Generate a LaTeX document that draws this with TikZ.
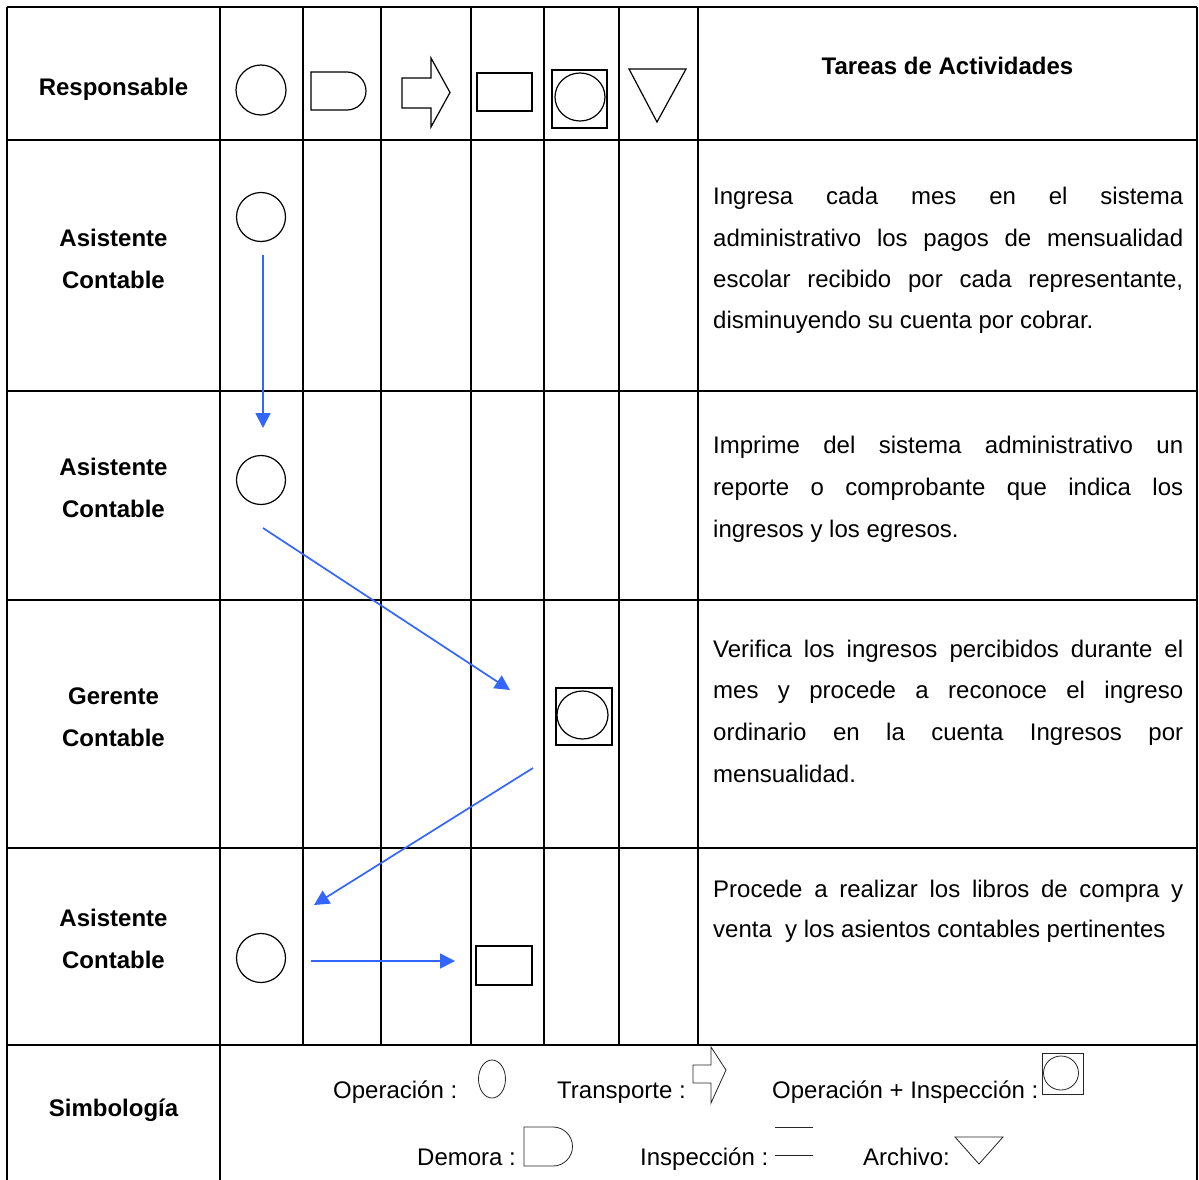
\documentclass[tikz,border=0pt]{standalone}
\usepackage{fontspec}
\setmainfont{Liberation Sans}
\usetikzlibrary{arrows.meta}
\definecolor{flowblue}{RGB}{51,102,255}
\newcommand{\jline}[1]{\makebox[470pt][s]{#1}}
\begin{document}
\begin{tikzpicture}[x=1pt,y=-1pt,
  gridline/.style={line width=1.5pt,black},
  sym/.style={line width=1.2pt,black},
  legsym/.style={line width=0.8pt,black!85},
  flow/.style={flowblue,line width=1.7pt,-{Triangle[length=15pt,width=15pt]}},
  lbl/.style={font=\fontsize{24}{28}\selectfont\bfseries,anchor=base,inner sep=0pt},
  txt/.style={font=\fontsize{24}{28}\selectfont,anchor=base west,inner sep=0pt},
  opnode/.style={draw,sym,circle,minimum size=49pt,inner sep=0pt},
  rectnode/.style={draw,sym,rectangle,minimum width=56pt,minimum height=39pt,inner sep=0pt}
]
\useasboundingbox (0,0) rectangle (1199,1180);
\fill[white] (0,0) rectangle (1199,1180);

% ---------- grid ----------
\draw[gridline] (7,7) -- (1197,7);
\foreach \yy in {140,391,600,848,1045} \draw[gridline] (7,\yy) -- (1197,\yy);
\foreach \xx in {7,220,1197} \draw[gridline] (\xx,7) -- (\xx,1181);
\foreach \xx in {303,381,471,544,619,698} \draw[gridline] (\xx,7) -- (\xx,1045);

% ---------- header ----------
\node[lbl] (hresp) at (113.5,96) {Responsable};
\node[lbl] (htar) at (947.5,75) {Tareas de Actividades};
\draw[sym] (261,90) circle[radius=25pt];
\draw[sym] (311,72) -- (347,72) arc[start angle=90,end angle=-90,radius=19pt] -- (311,110) -- cycle;
\draw[sym] (402,78) -- (431,78) -- (431,58) -- (450,92.5) -- (431,127) -- (431,108) -- (402,108) -- cycle;
\draw[sym] (477,73) rectangle (532,111);
\draw[sym] (552,70) rectangle (607,128);
\draw[sym] (580,97) ellipse[x radius=25pt,y radius=24pt];
\draw[sym] (629,69) -- (686,69) -- (657,122) -- cycle;

% ---------- row labels ----------
\node[lbl] (r1a) at (113.5,246) {Asistente};
\node[lbl] (r1b) at (113.5,288) {Contable};
\node[lbl] (r2a) at (113.5,475) {Asistente};
\node[lbl] (r2b) at (113.5,517) {Contable};
\node[lbl] (r3a) at (113.5,704) {Gerente};
\node[lbl] (r3b) at (113.5,746) {Contable};
\node[lbl] (r4a) at (113.5,926) {Asistente};
\node[lbl] (r4b) at (113.5,968) {Contable};
\node[lbl] (r5a) at (113.5,1116) {Simbología};

% ---------- task texts ----------
\node[txt] (t1a) at (713,204) {\jline{Ingresa cada mes en el sistema}};
\node[txt] (t1b) at (713,246) {\jline{administrativo los pagos de mensualidad}};
\node[txt] (t1c) at (713,287) {\jline{escolar recibido por cada representante,}};
\node[txt] (t1d) at (713,328) {disminuyendo su cuenta por cobrar.};

\node[txt] (t2a) at (713,453) {\jline{Imprime del sistema administrativo un}};
\node[txt] (t2b) at (713,495) {\jline{reporte o comprobante que indica los}};
\node[txt] (t2c) at (713,537) {ingresos y los egresos.};

\node[txt] (t3a) at (713,657) {\jline{Verifica los ingresos percibidos durante el}};
\node[txt] (t3b) at (713,698) {\jline{mes y procede a reconoce el ingreso}};
\node[txt] (t3c) at (713,740) {\jline{ordinario en la cuenta Ingresos por}};
\node[txt] (t3d) at (713,782) {mensualidad.};

\node[txt] (t4a) at (713,897) {\jline{Procede a realizar los libros de compra y}};
\node[txt] (t4b) at (713,937) {venta\ \ y los asientos contables pertinentes};

% ---------- flow symbols ----------
\node[opnode] (op1) at (261,217) {};
\node[opnode] (op2) at (261,480) {};
\node[draw,sym,rectangle,minimum width=56pt,minimum height=57pt,inner sep=0pt] (oi3) at (584,716.5) {};
\draw[sym] (582.5,715) ellipse[x radius=25.5pt,y radius=24pt];
\node[opnode] (op4) at (261,958) {};
\node[rectnode] (in4) at (504,965.5) {};

% ---------- connectors ----------
\coordinate (a1s) at (263,255);
\coordinate (a1e) at (263,428);
\coordinate (a2s) at (263,528);
\coordinate (a2e) at (510,690);
\coordinate (a3s) at (533,768);
\coordinate (a3e) at (314,905);
\coordinate (a4s) at (311,961);
\coordinate (a4e) at (455,961);
\draw[flow] (a1s) -- (a1e);
\draw[flow] (a2s) -- (a2e);
\draw[flow] (a3s) -- (a3e);
\draw[flow] (a4s) -- (a4e);

% ---------- legend ----------
\node[txt] (lop) at (333,1098) {Operación :};
\draw[legsym] (492,1079) ellipse[x radius=13.5pt,y radius=19pt];
\node[txt] (ltr) at (557,1098) {Transporte :};
\draw[legsym] (693,1065) -- (711,1065) -- (711,1047) -- (726,1070) -- (711,1103) -- (711,1083) -- (693,1083) -- cycle;
\node[txt] (loi) at (772,1098) {Operación + Inspección :};
\draw[legsym] (1042,1053) rectangle (1083,1094);
\draw[legsym] (1061,1073) ellipse[x radius=17.5pt,y radius=17pt];
\node[txt] (lde) at (417,1165) {Demora :};
\draw[legsym] (524,1127) -- (553,1127) arc[start angle=90,end angle=-90,radius=19.5pt] -- (524,1166) -- cycle;
\node[txt] (lin) at (640,1165) {Inspección :};
\draw[legsym] (775,1127) -- (813,1127);
\draw[legsym] (775,1155) -- (813,1155);
\node[txt] (lar) at (863,1165) {Archivo:};
\draw[legsym] (955,1137) -- (1003,1137) -- (979,1164) -- cycle;
\end{tikzpicture}
\end{document}
